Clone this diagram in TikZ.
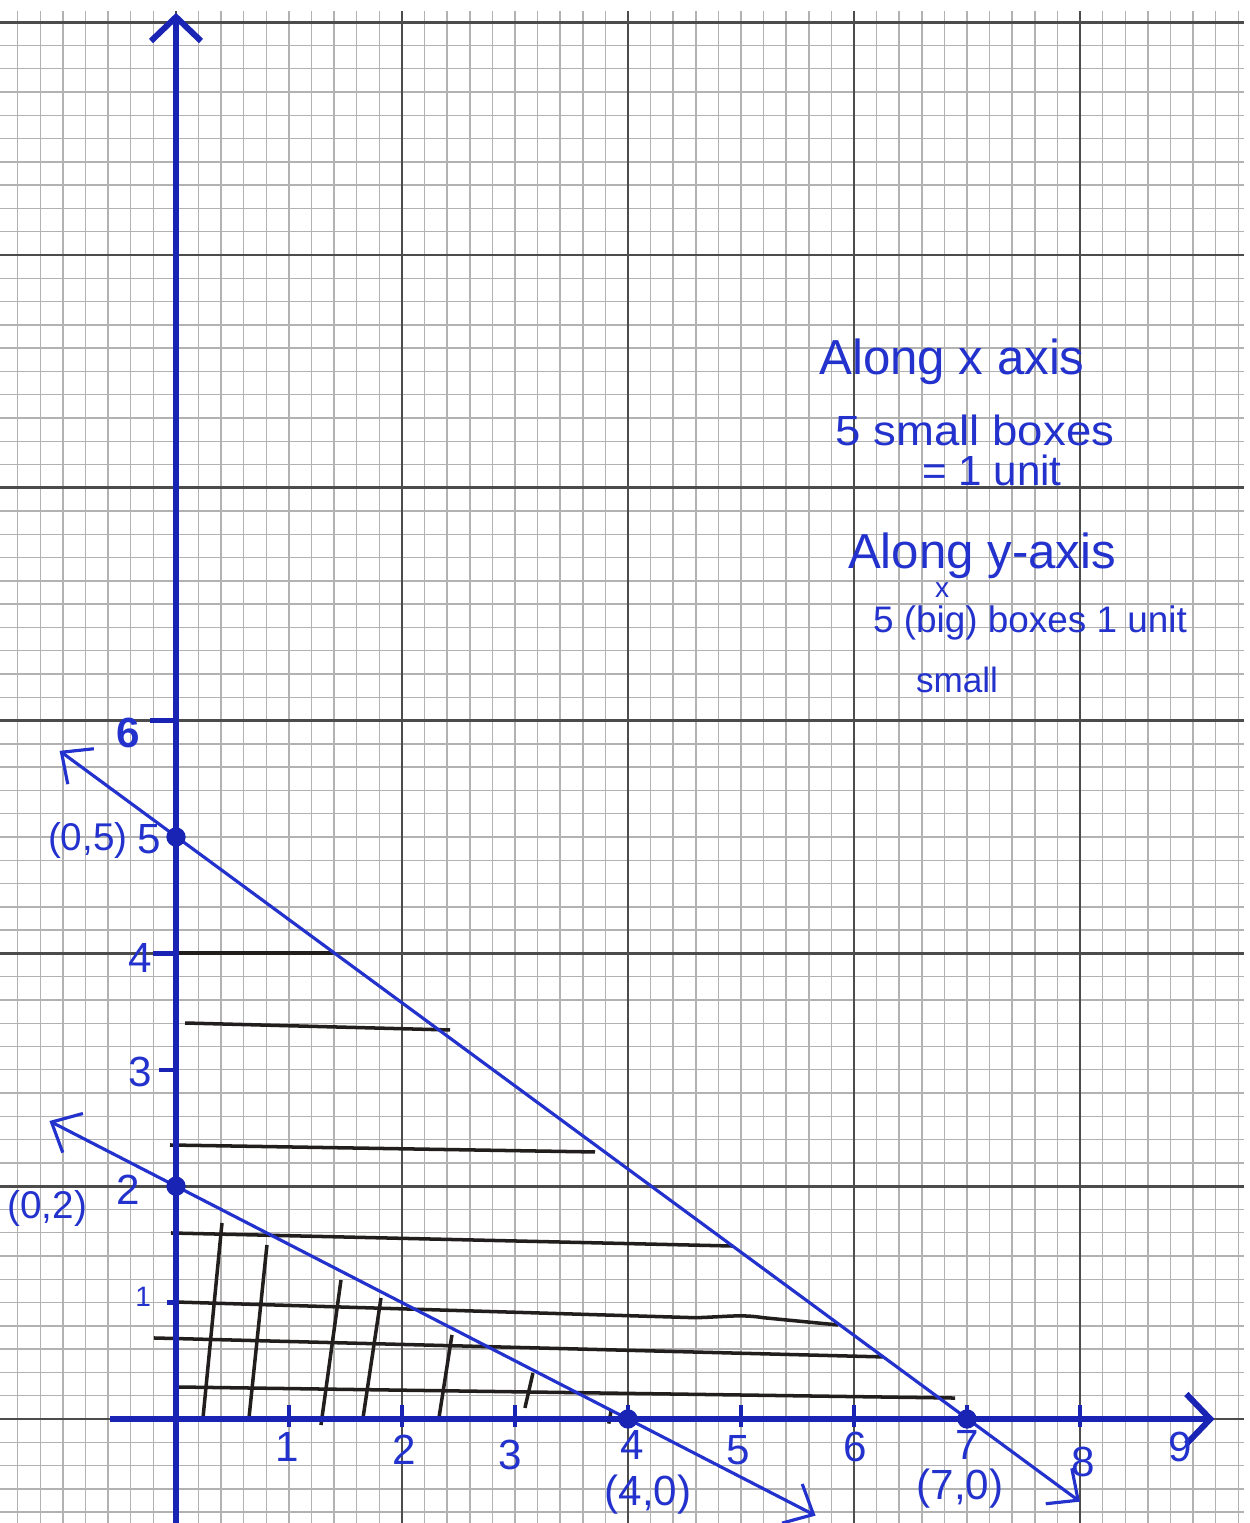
\documentclass[tikz,border=0pt]{standalone}
\usepackage{fontspec}
\setmainfont{Liberation Sans}
\usetikzlibrary{arrows.meta,positioning}
\definecolor{penblue}{RGB}{35,50,205}
\definecolor{axisblue}{RGB}{25,35,180}
\definecolor{inkblack}{RGB}{35,30,30}

\begin{document}
\begin{tikzpicture}[x=1.13cm, y=1.164cm, >=Latex]

\tikzset{
  minorgrid/.style={draw=black!30, line width=0.4pt},
  majorgrid/.style={draw=black!70, line width=0.8pt},
  axisline/.style={draw=axisblue, line width=1.7pt},
  axistip/.style={-{Straight Barb[length=2.4mm,width=5mm]}},
  graphline/.style={draw=penblue, line width=0.9pt,
    {Straight Barb[length=2.4mm,width=4.4mm]}-{Straight Barb[length=2.4mm,width=4.4mm]}},
  hatch/.style={draw=inkblack, line width=1pt},
  tickmark/.style={draw=axisblue, line width=1.3pt},
  dot/.style={circle, fill=axisblue, inner sep=0pt, minimum size=5.5pt},
  lbl/.style={text=penblue, inner sep=0pt, font=\fontsize{12}{14}\selectfont},
  note/.style={text=penblue, inner sep=0pt, anchor=center}
}

\useasboundingbox (-1.5575,-0.8935) rectangle (9.5044,12.1907);
\fill[white] (-1.5575,-0.8935) rectangle (9.5044,12.1907);

% =========================================================
% Graph paper
% =========================================================
\foreach \k in {-7,...,47}
  \draw[minorgrid] (\k/5,-0.9) -- (\k/5,12.1);
\foreach \k in {-4,...,60}
  \draw[minorgrid] (-1.56,\k/5) -- (9.45,\k/5);
\foreach \k in {0,2,4,6,8}
  \draw[majorgrid] (\k,-0.9) -- (\k,12.1);
\foreach \k in {0,2,...,12}
  \draw[majorgrid] (-1.56,\k) -- (9.45,\k);

% =========================================================
% Shading: horizontal strokes below the upper line
% =========================================================
\draw[hatch] (0,4.003) -- (1.389,4.003);
\draw[hatch] (0.08,3.402) -- (2.425,3.342);
\draw[hatch] (-0.053,2.354) -- (3.708,2.294);
\draw[hatch] (-0.044,1.598) -- (4.929,1.486);
\draw[hatch] (0,1.005) -- (4.6,0.87) .. controls (4.9,0.88) and (5.0,0.9) .. (5.2,0.87) -- (5.858,0.808);
\draw[hatch] (-0.195,0.696) -- (6.265,0.533);
\draw[hatch] (0.009,0.275) -- (6.894,0.180);

% Shading: vertical strokes below the lower line
\draw[hatch] (0.239,0.009) -- (0.407,1.684);
\draw[hatch] (0.646,0.009) -- (0.805,1.495);
\draw[hatch] (1.283,-0.052) -- (1.460,1.194);
\draw[hatch] (1.655,0.009) -- (1.814,1.040);
\draw[hatch] (2.327,0.009) -- (2.442,0.722);
\draw[hatch] (3.088,0.095) -- (3.159,0.395);
\draw[hatch] (3.83,-0.04) -- (3.85,0.07);

% =========================================================
% Boundary lines
% =========================================================
\coordinate (upA) at (-1.03,5.74);
\coordinate (upB) at (8.0,-0.71);
\coordinate (lowA) at (-1.12,2.56);
\coordinate (lowB) at (5.66,-0.83);

\draw[graphline] (upA) -- (upB);
\draw[graphline] (lowA) -- (lowB);

% =========================================================
% Axes
% =========================================================
\coordinate (ybot) at (0,-0.9);
\coordinate (ytop) at (0,12.08);
\coordinate (xleft) at (-0.58,0);
\coordinate (xright) at (9.19,0);

\draw[axisline, axistip] (ybot) -- (ytop);
\draw[axisline, axistip] (xleft) -- (xright);

\foreach \t in {1,...,8}
  \draw[tickmark] (\t,-0.07) -- (\t,0.12);
\foreach \t/\w in {1/0.08,3/0.15,4/0.2,6/0.23}
  \draw[tickmark] (-\w,\t) -- (0,\t);

\foreach \t/\px/\py in {1/0.982/-0.241, 2/2.018/-0.266, 3/2.956/-0.309,
    4/4.035/-0.223, 5/4.973/-0.266, 6/6.009/-0.241, 7/7.0/-0.22,
    8/8.027/-0.369, 9/8.885/-0.241}
  \node[lbl] (xl\t) at (\px,\py) {\t};

\node[lbl] (yl6) at (-0.425,5.893) {\textbf{6}};
\node[lbl] (yl5) at (-0.24,4.98) {5};
\node[lbl] (yl4) at (-0.32,3.96) {4};
\node[lbl] (yl3) at (-0.32,2.98) {3};
\node[lbl] (yl2) at (-0.425,1.967) {2};
\node[lbl, font=\fontsize{8}{9}\selectfont] (yl1) at (-0.29,1.05) {1};

% =========================================================
% Intercepts
% =========================================================
\node[dot] (p05) at (0,5) {};
\node[dot] (p02) at (0,2) {};
\node[dot] (p40) at (4,0) {};
\node[dot] (p70) at (7,0) {};

\node[lbl, font=\fontsize{11}{13}\selectfont] (t05) at (-0.78,4.97) {(0,5)};
\node[lbl, font=\fontsize{11}{13}\selectfont] (t02) at (-1.14,1.81) {(0,2)};
\node[lbl] (t40) at (4.177,-0.653) {(4,0)};
\node[lbl] (t70) at (6.938,-0.6) {(7,0)};

% =========================================================
% Scale notes
% =========================================================
\node[note, font=\fontsize{14}{16}\selectfont] (alongx) at (6.867,9.081) {Along x axis};
\node[note, font=\fontsize{12}{14}\selectfont, xscale=1.08] (xboxes) at (7.071,8.497) {5 small boxes};
\node[note, font=\fontsize{12}{14}\selectfont] (xunit) at (7.22,8.153) {= 1 unit};
\node[note, font=\fontsize{14}{16}\selectfont] (alongy) at (7.133,7.414) {Along y-axis};
\node[note, font=\fontsize{8}{9}\selectfont] (cross) at (6.78,7.125) {x};
\node[note, font=\fontsize{10.5}{12}\selectfont] (yboxes) at (7.558,6.838) {5 (big) boxes 1 unit};
\node[note, font=\fontsize{10}{12}\selectfont] (small) at (6.912,6.349) {small};

\end{tikzpicture}
\end{document}
